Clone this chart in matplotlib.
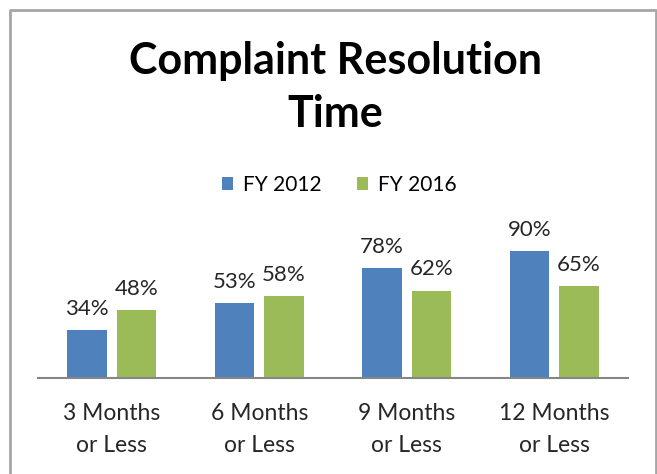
import numpy as np
import matplotlib.pyplot as plt
from matplotlib.lines import Line2D

categories = ["3 Months\nor Less", "6 Months\nor Less", "9 Months\nor Less", "12 Months\nor Less"]
fy2012 = [34, 53, 78, 90]
fy2016 = [48, 58, 62, 65]
series_names = ["FY 2012", "FY 2016"]

BLUE = "#4F81BD"
GREEN = "#9BBB59"

plt.rcParams["font.family"] = ["Lato", "DejaVu Sans"]

W, H = 657, 474
fig = plt.figure(figsize=(W / 100, H / 100), dpi=100)

# chart frame (cropped: left, top, right edges only)
fx = lambda px: px / W
fy = lambda py: 1 - py / H
fig.add_artist(Line2D([fx(10), fx(10), fx(656), fx(656)],
                      [0, fy(10), fy(10), 0], color="#a6a6a6", lw=2))

# axes in pixel terms: x 38..628, baseline at y=378
ax = fig.add_axes([fx(38), fy(378), fx(628) - fx(38), fy(237) - fy(378)])
x = np.arange(len(categories))
w = 0.27
off = 0.168
b1 = ax.bar(x - off, fy2012, w, color=BLUE, label=series_names[0])
b2 = ax.bar(x + off, fy2016, w, color=GREEN, label=series_names[1])

for bars, vals in [(b1, fy2012), (b2, fy2016)]:
    for r, v in zip(bars, vals):
        ax.annotate(f"{v}%", (r.get_x() + r.get_width() / 2, v), xytext=(0, 8),
                    textcoords="offset points", ha="center", va="bottom",
                    fontsize=16, color="#262626", annotation_clip=False)

ax.set_xlim(-0.5, len(categories) - 0.5)
ax.set_ylim(0, 100)
ax.set_yticks([])
for s in ["top", "right", "left"]:
    ax.spines[s].set_visible(False)
ax.spines["bottom"].set_color("#868686")
ax.spines["bottom"].set_linewidth(1.5)
ax.set_xticks(x)
ax.set_xticklabels(categories, fontsize=16.5, color="#262626")
for lab in ax.get_xticklabels():
    lab.set_linespacing(1.65)
ax.tick_params(axis="x", length=0, pad=18)

fig.text(0.51, fy(61), "Complaint Resolution", ha="center", va="center",
         fontsize=31, fontweight="bold", color="black")
fig.text(0.51, fy(114), "Time", ha="center", va="center",
         fontsize=31, fontweight="bold", color="black")

fig.legend(handles=[b1, b2], labels=series_names, loc="center", bbox_to_anchor=(0.516, fy(185)),
           ncol=2, frameon=False, fontsize=15, handlelength=0.55, handleheight=0.55,
           handletextpad=0.45, columnspacing=1.7)

fig.savefig("out.png", dpi=100)
